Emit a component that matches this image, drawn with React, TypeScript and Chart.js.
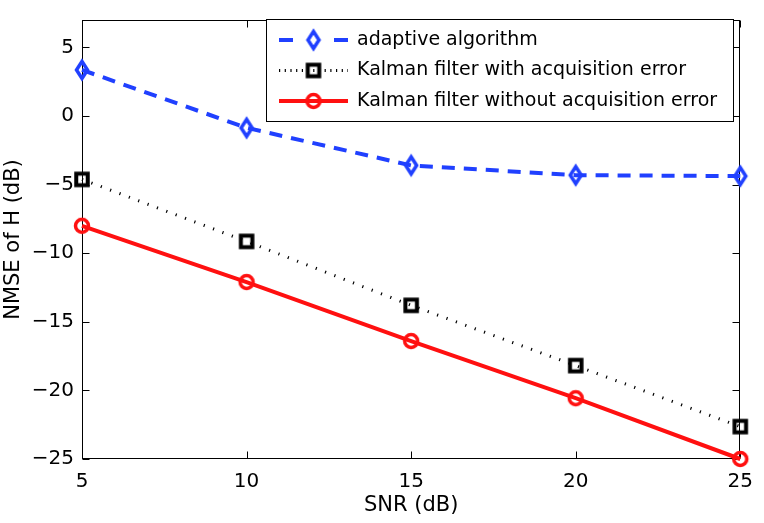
import React, { useEffect, useRef } from 'react';
import { Chart, registerables } from 'chart.js';
Chart.register(...registerables);

const snr = [5, 10, 15, 20, 25];
const adaptive = [3.36, -0.86, -3.6, -4.31, -4.38];
const kalmanWithErr = [-4.62, -9.14, -13.8, -18.19, -22.64];
const kalmanNoErr = [-8.0, -12.1, -16.4, -20.57, -25.0];
const seriesLabels = [
  'adaptive algorithm',
  'Kalman filter with acquisition error',
  'Kalman filter without acquisition error',
];
const xTicks = [5, 10, 15, 20, 25];
const yTicks = [-25, -20, -15, -10, -5, 0, 5];
const xTitle = 'SNR (dB)';
const yTitle = 'NMSE of H (dB)';

const FONT = '"DejaVu Sans", "Liberation Sans", Arial, sans-serif';
const BLUE = 'rgb(32,64,255)';
const RED = 'rgb(255,16,16)';
const BLACK = '#000000';

function makeMarker(kind: string, color: string): HTMLCanvasElement {
  const c = document.createElement('canvas');
  const W = 26, H = 28;
  c.width = W;
  c.height = H;
  const g = c.getContext('2d')!;
  g.strokeStyle = color;
  g.lineJoin = 'miter';
  const cx = W / 2, cy = H / 2;
  g.beginPath();
  if (kind === 'diamond') {
    g.lineWidth = 3.5;
    g.moveTo(cx, cy - 8.5);
    g.lineTo(cx + 5.5, cy);
    g.lineTo(cx, cy + 8.5);
    g.lineTo(cx - 5.5, cy);
    g.closePath();
  } else if (kind === 'square') {
    g.lineWidth = 4;
    g.rect(cx - 5.75, cy - 5.75, 11.5, 11.5);
  } else {
    g.lineWidth = 3.5;
    g.arc(cx, cy, 6.5, 0, Math.PI * 2);
  }
  g.stroke();
  return c;
}

export default function App() {
  const ref = useRef<HTMLCanvasElement>(null);
  useEffect(() => {
    document.body.style.margin = '0';
    const markers = [
      makeMarker('diamond', BLUE),
      makeMarker('square', BLACK),
      makeMarker('circle', RED),
    ];
    const legendDash = [[14, 41], [1.2, 4.5], []];
    const legendWidth = [4, 3, 4];

    const framePlugin = {
      id: 'frame',
      beforeDatasetsDraw(chart: any) {
        const { ctx, chartArea: a, scales } = chart;
        ctx.save();
        ctx.strokeStyle = '#000';
        ctx.lineWidth = 1;
        const L = Math.round(a.left) + 0.5, R = Math.round(a.right) - 0.5;
        const T = Math.round(a.top) + 0.5, B = Math.round(a.bottom) - 0.5;
        ctx.strokeRect(L, T, R - L, B - T);
        const tl = 7;
        ctx.beginPath();
        xTicks.forEach((v) => {
          const px = Math.round(scales.x.getPixelForValue(v)) + 0.5;
          ctx.moveTo(px, B); ctx.lineTo(px, B - tl);
          ctx.moveTo(px, T); ctx.lineTo(px, T + tl);
        });
        yTicks.forEach((v) => {
          const py = Math.round(scales.y.getPixelForValue(v)) + 0.5;
          ctx.moveTo(L, py); ctx.lineTo(L + tl, py);
          ctx.moveTo(R, py); ctx.lineTo(R - tl, py);
        });
        ctx.stroke();
        ctx.restore();
      },
      afterDraw(chart: any) {
        const { ctx } = chart;
        const bx = 266.5, by = 19.5, bw = 467, bh = 102;
        ctx.save();
        ctx.fillStyle = '#fff';
        ctx.fillRect(bx, by, bw, bh);
        ctx.strokeStyle = '#000';
        ctx.lineWidth = 1;
        ctx.strokeRect(bx, by, bw, bh);
        chart.data.datasets.forEach((ds: any, i: number) => {
          const cy = 40 + i * 30.5;
          ctx.save();
          ctx.strokeStyle = ds.borderColor;
          ctx.lineWidth = legendWidth[i];
          ctx.setLineDash(legendDash[i]);
          ctx.beginPath();
          ctx.moveTo(279, cy);
          ctx.lineTo(348, cy);
          ctx.stroke();
          ctx.restore();
          const m = markers[i];
          ctx.drawImage(m, 313.5 - m.width / 2, cy - m.height / 2);
          ctx.fillStyle = '#000';
          ctx.font = `19px ${FONT}`;
          ctx.textBaseline = 'middle';
          ctx.textAlign = 'left';
          ctx.fillText(ds.label, 357, cy);
        });
        ctx.restore();
      },
    };

    const tickFont = { family: FONT, size: 20 };
    const titleFont = { family: FONT, size: 21 };

    const chart = new Chart(ref.current!, {
      type: 'line',
      data: {
        labels: snr,
        datasets: [
          {
            label: seriesLabels[0],
            data: snr.map((x, i) => ({ x, y: adaptive[i] })),
            borderColor: BLUE,
            borderWidth: 4,
            borderDash: [13, 9],
            pointStyle: markers[0],
            pointRadius: 9,
          },
          {
            label: seriesLabels[1],
            data: snr.map((x, i) => ({ x, y: kalmanWithErr[i] })),
            borderColor: BLACK,
            borderWidth: 3,
            borderDash: [1.2, 8.8],
            pointStyle: markers[1],
            pointRadius: 9,
          },
          {
            label: seriesLabels[2],
            data: snr.map((x, i) => ({ x, y: kalmanNoErr[i] })),
            borderColor: RED,
            borderWidth: 4,
            pointStyle: markers[2],
            pointRadius: 9,
          },
        ].map((d) => ({ ...d, fill: false, tension: 0, clip: false as any, backgroundColor: 'transparent' })),
      },
      options: {
        animation: false,
        responsive: false,
        maintainAspectRatio: false,
        layout: { padding: { top: 10, right: 23, left: 0, bottom: 0 } },
        plugins: { legend: { display: false }, tooltip: { enabled: false } },
        scales: {
          x: {
            type: 'linear',
            min: 5,
            max: 25,
            afterBuildTicks: (s: any) => { s.ticks = xTicks.map((v) => ({ value: v })); },
            afterFit: (s: any) => { s.height = 64; },
            grid: { display: false, drawTicks: false },
            border: { display: false },
            ticks: { color: '#000', font: tickFont, padding: 11, maxRotation: 0, autoSkip: false, callback: (v: any) => String(v) },
            title: { display: true, text: xTitle, color: '#000', font: titleFont, padding: { top: 0, bottom: 5 } },
          },
          y: {
            type: 'linear',
            min: -25,
            max: 7,
            afterBuildTicks: (s: any) => { s.ticks = yTicks.map((v) => ({ value: v })); },
            afterFit: (s: any) => { s.width = 82; },
            grid: { display: false, drawTicks: false },
            border: { display: false },
            ticks: { color: '#000', font: tickFont, padding: 8, autoSkip: false, callback: (v: any) => String(v).replace('-', '\u2212') },
            title: { display: true, text: yTitle, color: '#000', font: titleFont, padding: { top: 1, bottom: 0 } },
          },
        },
      },
      plugins: [framePlugin],
    });
    return () => chart.destroy();
  }, []);
  return (
    <div style={{ width: 764, height: 523 }}>
      <canvas ref={ref} width={764} height={523} style={{ display: 'block' }} />
    </div>
  );
}
